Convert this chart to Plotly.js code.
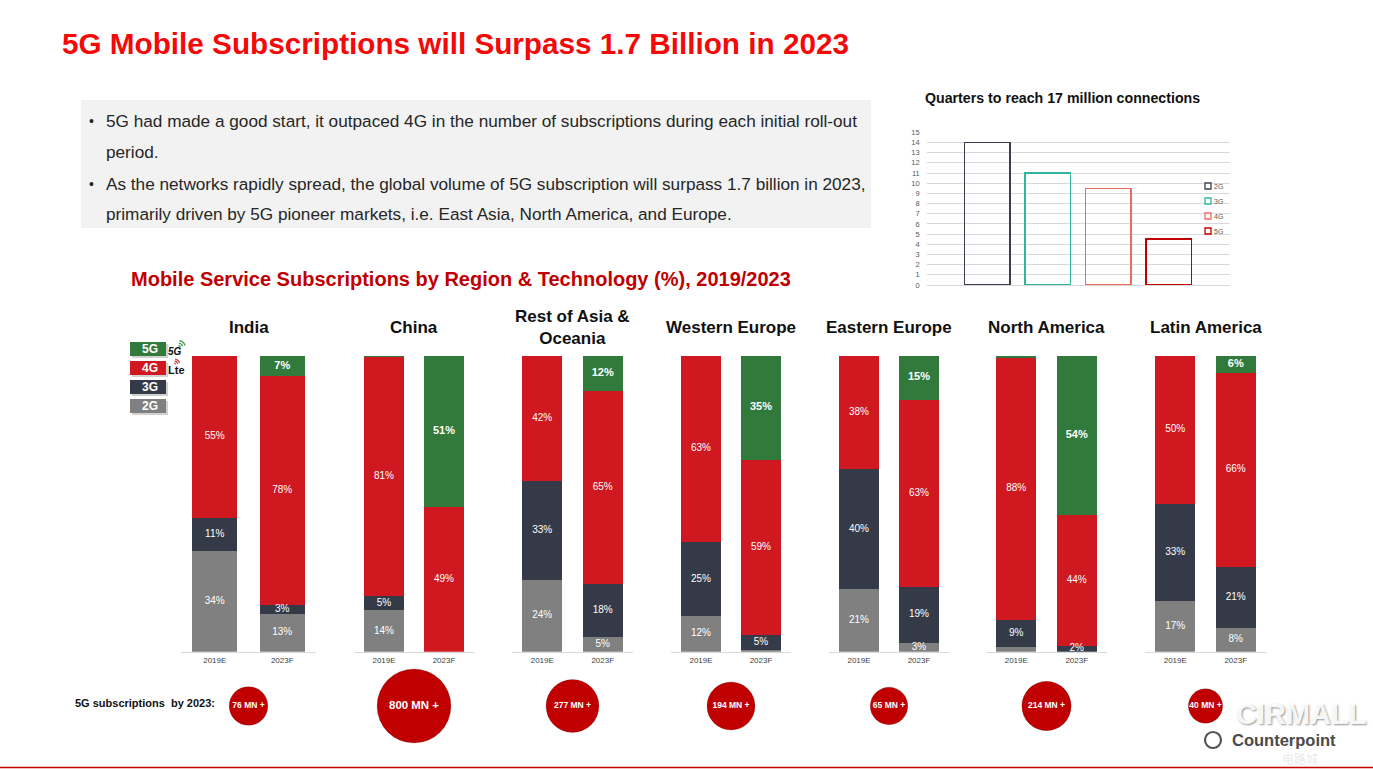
<!DOCTYPE html>
<html><head><meta charset="utf-8">
<script src="https://cdn.plot.ly/plotly-3.0.1.min.js"></script>
<style>html,body{margin:0;padding:0;background:#fff;overflow:hidden}</style>
</head><body><div id="chart" style="width:1373px;height:769px"></div>
<script>
// ---------------- DATA ----------------
const regions = ['India', 'China', 'Rest of Asia &<br>Oceania', 'Western Europe', 'Eastern Europe', 'North America', 'Latin America'];
const years = ['2019E', '2023F'];
const techs = ['2G', '3G', '4G', '5G'];
// share (%) per region: [2019E, 2023F]
const share2G = [[34, 13], [14, 0], [24, 5], [12, 0.5], [21, 3], [1.5, 0], [17, 8]];
const share3G = [[11, 3], [5, 0], [33, 18], [25, 5], [40, 19], [9, 2], [33, 21]];
const share4G = [[55, 78], [81, 49], [42, 65], [63, 59], [38, 63], [88, 44], [50, 66]];
const share5G = [[0, 7], [0.4, 51], [0, 12], [0, 35], [0, 15], [0.7, 54], [0, 6]];
// 5G subscriptions by 2023 (millions)
const subs5G = [76, 800, 277, 194, 65, 214, 40];
// Quarters to reach 17 million connections
const quarterTechs = ['2G', '3G', '4G', '5G'];
const quartersTo17M = [14, 11, 9.5, 4.5];

// ---------------- LAYOUT HELPERS ----------------
const W = 1373, H = 769;
const px = x => x / W;
const py = y => 1 - y / H;
const FONT = 'Liberation Sans, Arial, sans-serif';
const techColors = {'2G': '#808080', '3G': '#353a48', '4G': '#cf1820', '5G': '#317a3b'};
const smallColors = {'2G': '#3b3f4c', '3G': '#2fb59b', '4G': '#ee6a5f', '5G': '#c00000'};
const shares = {'2G': share2G, '3G': share3G, '4G': share4G, '5G': share5G};
const regionDomains = [[181, 316], [354, 474], [512, 633], [671, 791], [829, 949], [986, 1107], [1145, 1266]];
const axName = i => (i === 0 ? '' : String(i + 1));

const traces = [];
const layout = {
  width: W, height: H,
  margin: {l: 0, r: 0, t: 0, b: 0},
  paper_bgcolor: '#ffffff', plot_bgcolor: 'rgba(0,0,0,0)',
  showlegend: false, barmode: 'stack', bargap: 0,
  font: {family: FONT, color: '#222'},
  hovermode: false,
  yaxis: {domain: [py(651.7), py(355.5)], range: [0, 100], visible: false, anchor: 'x', fixedrange: true},
  yaxis2: {domain: [py(745), py(667)], range: [0, 1], visible: false, anchor: 'x', fixedrange: true},
  xaxis8: {domain: [px(926.7), px(1229.5)], range: [-1, 4], visible: false, anchor: 'y3', fixedrange: true},
  yaxis3: {domain: [py(285), py(132.3)], range: [0, 15], dtick: 1, anchor: 'x8', showgrid: true,
           gridcolor: '#d9d9d9', gridwidth: 1, zeroline: true, zerolinecolor: '#d9d9d9', showline: false,
           ticks: '', ticklabelstandoff: 6, tickfont: {size: 7.5, color: '#595959', family: FONT}, fixedrange: true},
  shapes: [], annotations: []
};

// region axes + stacked bars
regions.forEach((reg, r) => {
  const ax = axName(r);
  layout['xaxis' + ax] = {
    domain: [px(regionDomains[r][0]), px(regionDomains[r][1])], range: [-0.5, 1.5],
    tickvals: [0, 1], ticktext: years, ticks: '', showgrid: false, zeroline: false,
    showline: true, linecolor: '#d9d9d9', linewidth: 1.5, anchor: 'y',
    tickfont: {size: 8, color: '#404040', family: FONT}, fixedrange: true
  };
  const totals = [0, 1].map(k => techs.reduce((s, t) => s + shares[t][r][k], 0));
  const cum = [0, 0];
  const lx = [], ly = [], lt = [], ls = [];
  techs.forEach(t => {
    const vals = shares[t][r];
    const hs = vals.map((v, k) => v / totals[k] * 100);
    traces.push({
      type: 'bar', xaxis: 'x' + ax, yaxis: 'y',
      x: [0, 1], y: hs, width: 0.667, name: t,
      marker: {color: techColors[t]}, showlegend: false
    });
    vals.forEach((v, k) => {
      if (v >= 2) {
        lx.push(k); ly.push(cum[k] + hs[k] / 2);
        lt.push(t === '5G' ? '<b>' + v + '%</b>' : v + '%');
        ls.push(t === '5G' ? 11 : 10);
      }
      cum[k] += hs[k];
    });
  });
  // segment labels
  traces.push({
    type: 'scatter', mode: 'text', xaxis: 'x' + ax, yaxis: 'y', x: lx, y: ly, text: lt,
    textposition: 'middle center', textfont: {color: '#ffffff', size: ls, family: FONT},
    cliponaxis: false, showlegend: false
  });
  // 5G subscriptions bubble
  const d = 23 + 1.8 * Math.sqrt(subs5G[r]);
  traces.push({
    type: 'scatter', mode: 'markers+text', xaxis: 'x' + ax, yaxis: 'y2',
    x: [0.5], y: [0.5], text: ['<b>' + subs5G[r] + ' MN +</b>'], textposition: 'middle center',
    textfont: {color: '#ffffff', size: Math.max(8.5, d * 0.155), family: FONT},
    marker: {size: d, color: '#c00000', line: {color: 'rgba(0,0,0,0.15)', width: 1}},
    cliponaxis: false, showlegend: false
  });
  // region title
  layout.annotations.push({
    xref: 'paper', yref: 'paper', x: px((regionDomains[r][0] + regionDomains[r][1]) / 2), y: py(reg.includes('<br>') ? 327.5 : 327),
    text: '<b>' + reg + '</b>', showarrow: false, xanchor: 'center', yanchor: 'middle',
    font: {size: 17, color: '#111', family: FONT}
  });
});

// small chart: quarters to reach 17M
quarterTechs.forEach((t, i) => {
  traces.push({
    type: 'bar', xaxis: 'x8', yaxis: 'y3', x: [i], y: [quartersTo17M[i]], width: 0.75, name: t,
    marker: {color: 'rgba(0,0,0,0)', line: {color: smallColors[t], width: 1.5}}, showlegend: false
  });
  const yc = 186 + i * 15;
  layout.shapes.push({type: 'rect', xref: 'paper', yref: 'paper', x0: px(1205), x1: px(1211), y0: py(yc + 3), y1: py(yc - 3),
    line: {color: smallColors[t], width: 1.3}, fillcolor: '#fff'});
  layout.annotations.push({xref: 'paper', yref: 'paper', x: px(1212), y: py(yc), text: t, showarrow: false,
    xanchor: 'left', yanchor: 'middle', font: {size: 7, color: '#595959', family: FONT}});
});
layout.annotations.push({xref: 'paper', yref: 'paper', x: px(1062), y: py(98), text: '<b>Quarters to reach 17 million connections</b>',
  showarrow: false, xanchor: 'center', yanchor: 'middle', font: {size: 14.2, color: '#111', family: FONT}});

// main title
layout.annotations.push({xref: 'paper', yref: 'paper', x: px(60), y: py(43), text: '<b>5G Mobile Subscriptions will Surpass 1.7 Billion in 2023</b>',
  showarrow: false, xanchor: 'left', yanchor: 'middle', font: {size: 29.7, color: '#f50808', family: FONT}});

// bullet box
layout.shapes.push({type: 'rect', xref: 'paper', yref: 'paper', x0: px(81), x1: px(871), y0: py(228), y1: py(100),
  fillcolor: '#f2f2f2', line: {width: 0}, layer: 'below'});
const bulletLines = [
  [121, true, '5G had made a good start, it outpaced 4G in the number of subscriptions during each initial roll-out'],
  [152, false, 'period.'],
  [184, true, 'As the networks rapidly spread, the global volume of 5G subscription will surpass 1.7 billion in 2023,'],
  [214, false, 'primarily driven by 5G pioneer markets, i.e. East Asia, North America, and Europe.']
];
bulletLines.forEach(([y, b, txt]) => {
  if (b) layout.annotations.push({xref: 'paper', yref: 'paper', x: px(87), y: py(y), text: '•', showarrow: false,
    xanchor: 'left', yanchor: 'middle', font: {size: 14, color: '#262626', family: FONT}});
  layout.annotations.push({xref: 'paper', yref: 'paper', x: px(104), y: py(y), text: txt, showarrow: false,
    xanchor: 'left', yanchor: 'middle', font: {size: 17.2, color: '#262626', family: FONT}});
});

// subtitle
layout.annotations.push({xref: 'paper', yref: 'paper', x: px(461), y: py(279),
  text: '<b>Mobile Service Subscriptions by Region &amp; Technology (%), 2019/2023</b>',
  showarrow: false, xanchor: 'center', yanchor: 'middle', font: {size: 20, color: '#c00000', family: FONT}});

// left legend boxes
['5G', '4G', '3G', '2G'].forEach((t, i) => {
  const yc = 349 + i * 19;
  layout.shapes.push({type: 'rect', xref: 'paper', yref: 'paper', x0: px(132), x1: px(168), y0: py(yc + 9), y1: py(yc - 5),
    fillcolor: 'rgba(0,0,0,0.18)', line: {width: 0}});
  layout.shapes.push({type: 'rect', xref: 'paper', yref: 'paper', x0: px(130), x1: px(166), y0: py(yc + 7), y1: py(yc - 7),
    fillcolor: techColors[t], line: {width: 0}});
  layout.annotations.push({xref: 'paper', yref: 'paper', x: px(150), y: py(yc), text: '<b>' + t + '</b>', showarrow: false,
    xanchor: 'center', yanchor: 'middle', font: {size: 12, color: '#fff', family: FONT}});
});
layout.annotations.push({xref: 'paper', yref: 'paper', x: px(166), y: py(351), text: '<b><i>5G</i></b>', showarrow: false,
  xanchor: 'left', yanchor: 'middle', font: {size: 10, color: '#111', family: FONT}});
layout.annotations.push({xref: 'paper', yref: 'paper', x: px(166), y: py(370), text: '<b>Lte</b>', showarrow: false,
  xanchor: 'left', yanchor: 'middle', font: {size: 11, color: '#111', family: FONT}});
// signal arcs
function arc(cx, cy, r, a0, a1) {
  const pts = [];
  for (let k = 0; k <= 8; k++) {
    const a = (a0 + (a1 - a0) * k / 8) * Math.PI / 180;
    pts.push(px(cx + r * Math.cos(a)).toFixed(5) + ',' + py(cy - r * Math.sin(a)).toFixed(5));
  }
  return 'M' + pts.join(' L');
}
[2.5, 5, 7.5].forEach(r => {
  layout.shapes.push({type: 'path', xref: 'paper', yref: 'paper', path: arc(178, 348, r, 20, 80), line: {color: '#3f9a49', width: 1.3}});
  layout.shapes.push({type: 'path', xref: 'paper', yref: 'paper', path: arc(174, 365, r * 0.8, 20, 80), line: {color: '#e0303a', width: 1.2}});
});

// bubbles label
layout.annotations.push({xref: 'paper', yref: 'paper', x: px(73), y: py(703), text: '<b>5G subscriptions  by 2023:</b>', showarrow: false,
  xanchor: 'left', yanchor: 'middle', font: {size: 11, color: '#111', family: FONT}});

// bottom line
layout.shapes.push({type: 'line', xref: 'paper', yref: 'paper', x0: 0, x1: 1, y0: py(767.5), y1: py(767.5), line: {color: '#c00000', width: 1.5}});

// watermark / logo
layout.annotations.push({xref: 'paper', yref: 'paper', x: px(1300), y: py(758), text: '电路城', showarrow: false,
  xanchor: 'center', yanchor: 'middle', font: {size: 12, color: 'rgba(200,200,200,0.4)', family: 'Noto Sans CJK SC'}});
layout.annotations.push({xref: 'paper', yref: 'paper', x: px(1301), y: py(714), text: '<b>CIRMALL</b>', showarrow: false,
  xanchor: 'center', yanchor: 'middle', font: {size: 29, color: 'rgba(255,255,255,0.92)', family: FONT, shadow: '1px 1px 2px rgba(0,0,0,0.45)'}});
layout.annotations.push({xref: 'paper', yref: 'paper', x: px(1230), y: py(740), text: '<b>Counterpoint</b>', showarrow: false,
  xanchor: 'left', yanchor: 'middle', font: {size: 16.5, color: '#4a4a4a', family: FONT}});
layout.shapes.push({type: 'circle', xref: 'paper', yref: 'paper', x0: px(1205), x1: px(1221), y0: py(748), y1: py(732),
  line: {color: '#555', width: 2.2}});

Plotly.newPlot('chart', traces, layout, {staticPlot: true, displayModeBar: false});
</script>
</body></html>
